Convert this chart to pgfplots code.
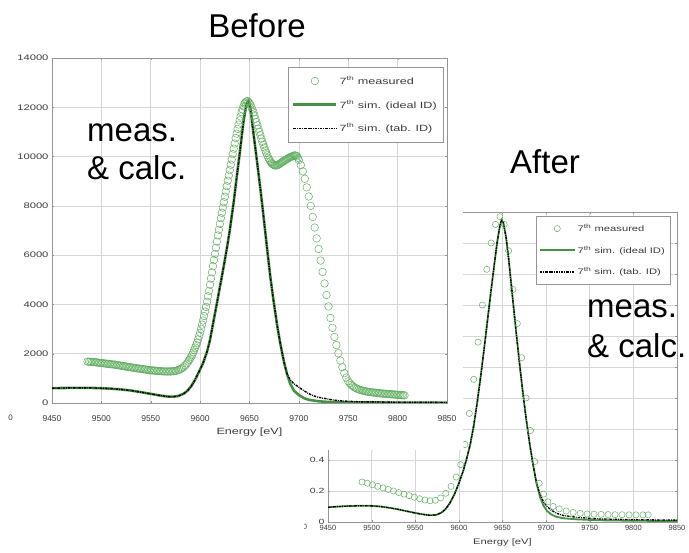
\documentclass[border=0pt]{standalone}
\usepackage{fontspec}
\setmainfont{Liberation Sans}
\usepackage{graphicx}
\usepackage{pgfplots}
\usepackage{pgfplotstable}
\pgfplotsset{compat=1.18}

\definecolor{measgreen}{RGB}{100,175,100}
\definecolor{simgreen}{RGB}{70,145,70}
\definecolor{gridgray}{RGB}{215,215,215}
\definecolor{boxgray}{RGB}{150,150,150}
\definecolor{ticktext}{RGB}{60,60,60}

\newcommand{\wide}[1]{\scalebox{1.4}[1]{#1}}

% ---------- "Before" spectra ----------
\pgfplotstableread{
E v
9486 1680
9487.5 1675
9489 1670
9490.5 1665
9492 1660
9493.5 1655
9495 1650
9496.5 1640
9498 1630
9499.5 1625
9501 1620
9502.5 1610
9504 1600
9505.5 1595
9507 1590
9508.5 1580
9510 1570
9511.5 1565
9513 1560
9514.5 1550
9516 1540
9517.5 1530
9519 1520
9520.5 1510
9522 1500
9523.5 1490
9525 1480
9526.5 1470
9528 1460
9529.5 1450
9531 1440
9532.5 1430
9534 1420
9535.5 1410
9537 1400
9538.5 1395
9540 1390
9541.5 1380
9543 1370
9544.5 1360
9546 1350
9547.5 1340
9549 1330
9550.5 1325
9552 1320
9553.5 1315
9555 1310
9556.5 1305
9558 1300
9559.5 1295
9561 1290
9562.5 1285
9564 1280
9565.5 1280
9567 1280
9568.5 1280
9570 1280
9571.5 1285
9573 1290
9574.5 1300
9576 1310
9577.5 1330
9579 1350
9580.5 1380
9582 1420
9583.5 1470
9585 1530
9586.5 1600
9588 1680
9589 1750
9590 1810
9591 1880
9592 1960
9593 2050
9594 2150
9595 2250
9596 2350
9597 2450
9598 2580
9599 2710
9600 2850
9601 3010
9602 3180
9603 3350
9604 3530
9605 3710
9606 3900
9607 4110
9608 4330
9609 4550
9610 4800
9611 5050
9612 5300
9613 5550
9614 5800
9615 6050
9616 6300
9617 6550
9618 6800
9619 7030
9620 7270
9621 7500
9622 7720
9623 7930
9624 8150
9625 8370
9626 8580
9627 8800
9628 9020
9629 9230
9630 9450
9631 9670
9632 9880
9633 10100
9634 10320
9635 10530
9636 10750
9637 10930
9638 11120
9639 11300
9640 11470
9641 11630
9642 11800
9643 11920
9644 12040
9645 12150
9646 12200
9647 12240
9648 12250
9649 12210
9650 12160
9651 12100
9652 12000
9653 11900
9654 11800
9655 11670
9656 11530
9657 11400
9658 11270
9659 11130
9660 11000
9661 10870
9662 10730
9663 10600
9664 10480
9665 10370
9666 10250
9667 10150
9668 10050
9669 9950
9670 9880
9671 9810
9672 9750
9673 9710
9674 9680
9675 9650
9676 9640
9677 9640
9678 9650
9679 9670
9680 9690
9681 9720
9682 9750
9683 9770
9684 9800
9685 9830
9686 9850
9687 9880
9688 9900
9689 9930
9690 9950
9691 9970
9692 9990
9693 10000
9694 10020
9695 10040
9696 10050
9697 10040
9698 10010
9699 9950
9700 9860
9702 9650
9704 9400
9706 9100
9708 8750
9710 8380
9712 8000
9714 7550
9716 7120
9718 6680
9720 6250
9722 5780
9724 5320
9726 4850
9728 4380
9730 3920
9732 3450
9734 3050
9736 2680
9738 2350
9740 2020
9742 1720
9744 1450
9746 1210
9748 1030
9750 880
9751.5 800
9753 740
9754.5 690
9756 640
9757.5 610
9759 580
9760.5 555
9762 530
9763.5 515
9765 500
9766.5 485
9768 470
9769.5 460
9771 450
9772.5 440
9774 430
9775.5 425
9777 420
9778.5 410
9780 400
9781.5 395
9783 390
9784.5 385
9786 380
9787.5 375
9789 370
9790.5 365
9792 360
9793.5 355
9795 350
9796.5 345
9798 340
9799.5 335
9801 330
9802.5 325
9804 320
9805.5 315
9807 310
}\beforemeas

\pgfplotstableread{
E v
9450 600
9460 608
9470 614
9480 616
9490 612
9500 600
9510 580
9520 550
9530 505
9540 440
9550 370
9560 300
9567 262
9573 258
9578 285
9583 370
9587 490
9591 680
9595 950
9599 1280
9603 1620
9607 2080
9610 2560
9613 3200
9617 4050
9620 4700
9623 5350
9627 6250
9630 7000
9634 8150
9637 9150
9640 10100
9644 11450
9647 12150
9649 12250
9651 11950
9654 10950
9657 10000
9661 8700
9664 7650
9668 6200
9671 5150
9674 4250
9678 3150
9681 2450
9685 1650
9688 1180
9691 800
9695 500
9700 320
9705 200
9710 130
9720 70
9730 40
9750 25
9800 15
9850 10
}\beforeideal

\pgfplotstableread{
E v
9450 600
9460 608
9470 614
9480 616
9490 612
9500 600
9510 580
9520 550
9530 505
9540 440
9550 370
9560 300
9567 262
9573 258
9578 285
9583 370
9587 490
9591 680
9595 950
9599 1280
9603 1620
9607 2080
9610 2560
9613 3200
9617 4050
9620 4700
9623 5350
9627 6250
9630 7000
9634 8150
9637 9150
9640 10100
9644 11450
9647 12150
9649 12250
9651 11950
9654 10950
9657 10000
9661 8700
9664 7650
9668 6200
9671 5150
9674 4250
9678 3150
9681 2450
9685 1650
9688 1180
9691 950
9695 780
9700 640
9705 500
9710 380
9715 290
9720 230
9728 170
9735 120
9745 80
9760 50
9800 30
9850 20
}\beforetab

% ---------- "After" spectra ----------
\pgfplotstableread{
E v
9489 0.258
9495 0.250
9501 0.240
9507 0.230
9513 0.220
9519 0.210
9525 0.200
9531 0.190
9537 0.180
9543 0.170
9549 0.160
9555 0.150
9561 0.142
9567 0.137
9573 0.140
9579 0.155
9585 0.185
9591 0.230
9597 0.290
9602 0.370
9607 0.500
9612 0.700
9617 0.920
9622 1.160
9627 1.400
9632 1.630
9637 1.800
9642 1.920
9647 1.970
9652 1.920
9657 1.750
9662 1.500
9667 1.280
9672 1.060
9677 0.800
9682 0.590
9687 0.390
9692 0.250
9697 0.180
9702 0.130
9708 0.100
9715 0.085
9723 0.071
9731 0.062
9739 0.056
9747 0.052
9755 0.050
9763 0.049
9771 0.048
9779 0.047
9787 0.047
9795 0.046
9803 0.046
9811 0.046
9817 0.046
}\aftermeas

\pgfplotstableread{
E v
9450 0.095
9460 0.099
9470 0.102
9480 0.104
9490 0.105
9500 0.104
9510 0.100
9520 0.092
9530 0.082
9540 0.070
9550 0.058
9560 0.048
9567 0.043
9574 0.046
9580 0.060
9585 0.085
9590 0.125
9595 0.180
9600 0.250
9605 0.330
9609 0.410
9613 0.500
9617 0.620
9621 0.770
9625 0.940
9629 1.120
9633 1.310
9637 1.500
9641 1.680
9644 1.810
9647 1.910
9649 1.950
9651 1.930
9654 1.840
9657 1.700
9661 1.480
9665 1.260
9669 1.050
9673 0.850
9677 0.670
9681 0.510
9685 0.370
9689 0.250
9693 0.160
9697 0.105
9701 0.072
9706 0.048
9712 0.033
9720 0.024
9735 0.017
9760 0.011
9800 0.008
9850 0.006
}\afterideal

\pgfplotstableread{
E v
9450 0.095
9460 0.099
9470 0.102
9480 0.104
9490 0.105
9500 0.104
9510 0.100
9520 0.092
9530 0.082
9540 0.070
9550 0.058
9560 0.048
9567 0.043
9574 0.046
9580 0.060
9585 0.085
9590 0.125
9595 0.180
9600 0.250
9605 0.330
9609 0.410
9613 0.500
9617 0.620
9621 0.770
9625 0.940
9629 1.120
9633 1.310
9637 1.500
9641 1.680
9644 1.810
9647 1.910
9649 1.950
9651 1.930
9654 1.840
9657 1.700
9661 1.480
9665 1.260
9669 1.050
9673 0.850
9677 0.670
9681 0.510
9685 0.370
9689 0.250
9693 0.180
9697 0.130
9701 0.100
9706 0.076
9712 0.056
9720 0.042
9735 0.030
9760 0.020
9800 0.015
9850 0.012
}\aftertab

\pgfplotsset{
  matlabaxis/.style={
    scale only axis,
    axis line style={boxgray, line width=0.6pt},
    grid=major,
    major grid style={gridgray, line width=0.6pt},
    tick style={boxgray},
    tick align=inside,
    major tick length=2pt,
    xmin=9450, xmax=9850,
    xtick={9450,9500,...,9850},
    scaled x ticks=false, scaled y ticks=false,
    /pgf/number format/1000 sep={},
    /pgf/number format/assume math mode=true,
    tick label style={text=ticktext},
    legend cell align=left,
  },
  legline/.style={legend image code/.code={%
    \draw[mark repeat=2,mark phase=2,##1] plot coordinates {(0pt,0pt)(#1/2,0pt)(#1,0pt)};}},
  meas/.style={only marks, mark=o, mark size=#1,
    mark options={draw=measgreen, line width=0.5pt}},
  ideal/.style={simgreen, line width=2.6pt, no marks},
  tab/.style={black, line width=1.4pt, no marks,
    dash pattern=on 2.5pt off 1pt on 0.8pt off 1pt},
}

\begin{document}
\begin{tikzpicture}
\useasboundingbox (0pt,0pt) rectangle (689pt,553pt);

% ===== After =====
\begin{axis}[matlabaxis,
  at={(328pt,31pt)}, anchor=south west,
  width=349pt, height=310pt,
  ymin=0, ymax=2,
  ytick={0,0.2,0.4,0.6,0.8,1,1.2,1.4,1.6,1.8,2},
  xticklabel style={font=\fontsize{7.5}{8}\selectfont},
  yticklabel style={font=\fontsize{7.5}{8}\selectfont},
  yticklabel={\wide{\pgfmathprintnumber{\tick}}},
  xlabel={\wide{Energy [eV]}},
  xlabel style={font=\fontsize{8}{9}\selectfont, text=ticktext,
    at={(axis description cs:0.5,0)}, anchor=center, yshift=-20pt},
  legend style={at={(0.98,0.987)}, anchor=north east,
    draw=boxgray, line width=0.5pt, fill=white,
    font=\fontsize{8}{9}\selectfont, text=ticktext,
    row sep=9pt, inner xsep=3pt, inner ysep=6pt},
]
\addplot[meas=3.1pt, legline=35pt] table[x=E,y=v] {\aftermeas};
\addlegendentry{\wide{7\textsuperscript{th} measured}}
\addplot[ideal, line width=1.8pt, legline=35pt] table[x=E,y=v] {\afterideal};
\addlegendentry{\wide{7\textsuperscript{th} sim. (ideal ID)}}
\addplot[tab, line width=1.3pt, legline=35pt] table[x=E,y=v] {\aftertab};
\addlegendentry{\wide{7\textsuperscript{th} sim. (tab. ID)}}
\end{axis}

% cropped tick label remnant at the left of the lower chart
\begin{scope}
\clip (304.5pt,15pt) rectangle (310pt,40pt);
\node[font=\fontsize{7.5}{8}\selectfont, text=ticktext] at (305pt,26pt) {0};
\end{scope}

% white page of the upper chart laid over the lower one
\fill[white] (0pt,103pt) rectangle (463pt,553pt);

% ===== Before =====
\begin{axis}[matlabaxis,
  at={(52pt,150pt)}, anchor=south west,
  width=395pt, height=345pt,
  ymin=0, ymax=14000,
  ytick={0,2000,...,14000},
  xticklabel style={font=\fontsize{8.5}{9}\selectfont, yshift=-9pt},
  yticklabel style={font=\fontsize{8}{9}\selectfont},
  yticklabel={\wide{\pgfmathprintnumber{\tick}}},
  xlabel={\wide{Energy [eV]}},
  xlabel style={font=\fontsize{9}{10}\selectfont, text=ticktext,
    at={(axis description cs:0.5,0)}, anchor=center, yshift=-29pt},
  legend style={at={(0.99,0.974)}, anchor=north east,
    draw=boxgray, line width=0.5pt, fill=white,
    font=\fontsize{9}{10}\selectfont, text=ticktext,
    row sep=10pt, inner xsep=4pt, inner ysep=7pt},
]
\addplot[meas=3.8pt, legline=43pt] table[x=E,y=v] {\beforemeas};
\addlegendentry{\wide{7\textsuperscript{th} measured}}
\addplot[ideal, legline=43pt] table[x=E,y=v] {\beforeideal};
\addlegendentry{\wide{7\textsuperscript{th} sim. (ideal ID)}}
\addplot[tab, legline=43pt] table[x=E,y=v] {\beforetab};
\addlegendentry{\wide{7\textsuperscript{th} sim. (tab. ID)}}
\end{axis}

% cropped tick label remnant at the far left
\node[font=\fontsize{8}{9}\selectfont, text=ticktext] at (10.5pt,135pt) {0};

% slide annotations
\node[font=\fontsize{33}{36}\selectfont, anchor=base] at (257pt,515pt) {Before};
\node[font=\fontsize{33}{36}\selectfont, anchor=base] at (545pt,379pt) {After};
\node[font=\fontsize{33}{36}\selectfont, anchor=base west, inner sep=0pt] at (87pt,411pt) {meas.};
\node[font=\fontsize{33}{36}\selectfont, anchor=base west, inner sep=0pt] at (87pt,373pt) {\& calc.};
\node[font=\fontsize{33}{36}\selectfont, anchor=base west, inner sep=0pt] at (587pt,235pt) {meas.};
\node[font=\fontsize{33}{36}\selectfont, anchor=base west, inner sep=0pt] at (587pt,195pt) {\& calc.};
\end{tikzpicture}
\end{document}
